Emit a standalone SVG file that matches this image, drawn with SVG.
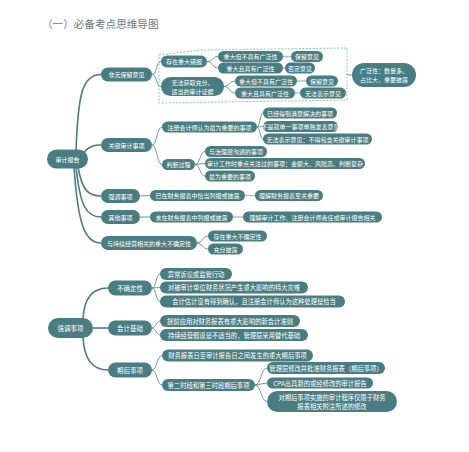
<svg xmlns="http://www.w3.org/2000/svg" width="469" height="452" viewBox="0 0 469 452">
<style>
.n{fill:#4a7d82}
.t{fill:#fff;font-family:"Noto Sans CJK SC","Noto Sans",sans-serif;font-size:6px;text-anchor:middle;dominant-baseline:central}
.l .t{font-size:6.3px}
.l .big .t{font-size:6.5px}
.c{fill:none;stroke:#4a7d82;stroke-width:0.8}
.k{fill:none;stroke:#4a7d82;stroke-width:1.6}
.s{fill:none;stroke:#a9c0c2;stroke-width:1.4}
.title{fill:#6b7785;font-family:"Noto Sans CJK SC","Noto Sans",sans-serif;font-size:10.6px}
</style>
<rect width="469" height="452" fill="#fff"/>
<text class="title" x="42" y="28">（一）必备考点思维导图</text>

<g id="connectors">
<path class="k" d="M76 151 C78 95,82 74.5,101 74.5"/>
<path class="k" d="M84 152 C90 146,94 145,101 145"/>
<path class="k" d="M78 167 C82 190,88 196,101 196"/>
<path class="k" d="M76 167 C80 205,86 217,101 217"/>
<path class="k" d="M74 167 C78 225,85 243,101 243"/>
<path class="k" d="M83 319 C84 298,92 288,108 288"/>
<path class="k" d="M93 328 L108 328"/>
<path class="k" d="M83 337 C84 358,92 370,108 370"/>

<path class="c" d="M152 74.5 C157 74.5,156 61.5,161 61.5"/>
<path class="c" d="M152 74.5 C157 74.5,156 86.5,161 86.5"/>
<path class="c" d="M207 61.5 C213 61.5,212 56.5,218 56.5"/>
<path class="c" d="M207 61.5 C213 61.5,212 68,218 68"/>
<path class="c" d="M224 86.5 C229.5 86.5,229.5 81,235 81"/>
<path class="c" d="M224 86.5 C229.5 86.5,229.5 93,235 93"/>
<path class="s" d="M283 56.5 L291 56.5"/>
<path class="s" d="M283 68 L285 68"/>
<path class="s" d="M297 81 L306 81"/>
<path class="s" d="M295 93 L300 93"/>
<path class="c" d="M347 75 L352 75"/>

<path class="c" d="M152 145 C157 145,157 127,162 127"/>
<path class="c" d="M152 145 C157 145,157 164.5,162 164.5"/>
<path class="c" d="M257 127 C260 127,260 113,263 113"/>
<path class="c" d="M257 127 L263 126.5"/>
<path class="c" d="M257 127 C260 127,260 139,263 139"/>
<path class="c" d="M195 164.5 C200 164.5,200 151.5,205 151.5"/>
<path class="c" d="M195 164.5 L205 163.5"/>
<path class="c" d="M195 164.5 C200 164.5,200 176,205 176"/>
<path class="c" d="M140 196 L150 195.5"/>
<path class="s" d="M245 195.5 L255 195.5"/>
<path class="c" d="M140 217 L150 217"/>
<path class="s" d="M233 217 L243 217"/>
<path class="c" d="M197 243 C202 243,203 236,208 236"/>
<path class="c" d="M197 243 C202 243,203 249,208 249"/>

<path class="c" d="M152 288 C156 288,156 274,160 274"/>
<path class="c" d="M152 288 L160 287.5"/>
<path class="c" d="M152 288 C156 288,156 301.5,160 301.5"/>
<path class="c" d="M152 328 C156 328,156 321,160 321"/>
<path class="c" d="M152 328 C156 328,156 335,160 335"/>
<path class="c" d="M152 370 C157 370,157 355.5,162 355.5"/>
<path class="c" d="M152 370 C157 370,157 385,162 385"/>
<path class="c" d="M255 385 C261 385,261 368,267 368"/>
<path class="c" d="M255 385 L267 383"/>
<path class="c" d="M255 385 C261 385,261 401.5,267 401.5"/>
</g>

<polygon points="159,55 200,50 347,48 347,100 159,103" fill="none" stroke="#5cc48a" stroke-width="0.8" stroke-dasharray="2,1.5"/>

<g id="upper">
<g id="root1"><rect class="n" x="47" y="149.5" width="41" height="19" rx="9.5"/><text class="t" x="67.5" y="159">审计报告</text></g>
<g id="A"><rect class="n" x="101" y="67.5" width="51" height="14" rx="7"/><text class="t" x="126.5" y="74.5">非无保留意见</text></g>
<g id="B"><rect class="n" x="101" y="138" width="51" height="14" rx="7"/><text class="t" x="126.5" y="145">关键审计事项</text></g>
<g id="C"><rect class="n" x="101" y="189" width="39" height="14" rx="7"/><text class="t" x="120.5" y="196">强调事项</text></g>
<g id="D"><rect class="n" x="101" y="210" width="39" height="14" rx="7"/><text class="t" x="120.5" y="217">其他事项</text></g>
<g id="E"><rect class="n" x="101" y="236" width="96" height="14" rx="7"/><text class="t" x="149" y="243">与持续经营相关的重大不确定性</text></g>

<g id="A1"><rect class="n" x="161" y="55.5" width="46" height="12" rx="6"/><text class="t" x="184" y="61.5">存在重大错报</text></g>
<g id="A2"><rect class="n" x="161" y="77" width="63" height="19" rx="9.5"/><text class="t" x="192.5" y="82.5">无法获取充分、</text><text class="t" x="192.5" y="91">适当的审计证据</text></g>
<g id="A1a"><rect class="n" x="218" y="51" width="65" height="11" rx="5.5"/><text class="t" x="250.5" y="56.5">重大但不具有广泛性</text></g>
<g id="A1b"><rect class="n" x="218" y="62.5" width="65" height="11" rx="5.5"/><text class="t" x="250.5" y="68">重大且具有广泛性</text></g>
<g id="A1a1"><rect class="n" x="291" y="51" width="32" height="11" rx="5.5"/><text class="t" x="307" y="56.5">保留意见</text></g>
<g id="A1b1"><rect class="n" x="285" y="62.5" width="30" height="11" rx="5.5"/><text class="t" x="300" y="68">否定意见</text></g>
<g id="A2a"><rect class="n" x="235" y="75.5" width="62" height="11" rx="5.5"/><text class="t" x="266" y="81">重大但不具有广泛性</text></g>
<g id="A2b"><rect class="n" x="235" y="87.5" width="60" height="11" rx="5.5"/><text class="t" x="265" y="93">重大且具有广泛性</text></g>
<g id="A2a1"><rect class="n" x="306" y="75.5" width="32" height="11" rx="5.5"/><text class="t" x="322" y="81">保留意见</text></g>
<g id="A2b1"><rect class="n" x="300" y="87.5" width="46" height="11" rx="5.5"/><text class="t" x="323" y="93">无法表示意见</text></g>
<g id="W"><rect class="n" x="352" y="63" width="64" height="24" rx="12"/><text class="t" x="384" y="70.5">广泛性：数量多、</text><text class="t" x="384" y="79.5">占比大，重要披露</text></g>

<g id="B1"><rect class="n" x="162" y="121.5" width="95" height="11" rx="5.5"/><text class="t" x="209.5" y="127">注册会计师认为最为重要的事项</text></g>
<g id="B2"><rect class="n" x="162" y="159" width="33" height="11" rx="5.5"/><text class="t" x="178.5" y="164.5">判断过程</text></g>
<g id="B1a"><rect class="n" x="263" y="107.5" width="74" height="11" rx="5.5"/><text class="t" x="300" y="113">已经得到满意解决的事项</text></g>
<g id="B1b"><rect class="n" x="263" y="121" width="75" height="11" rx="5.5"/><text class="t" x="300.5" y="126.5">不是就单一事项单独发表意见</text></g>
<g id="B1c"><rect class="n" x="263" y="133.5" width="109" height="11" rx="5.5"/><text class="t" x="317.5" y="139">无法表示意见：不得包含关键审计事项</text></g>
<g id="B2a"><rect class="n" x="205" y="146" width="62" height="11" rx="5.5"/><text class="t" x="236" y="151.5">与治理层沟通的事项</text></g>
<g id="B2b"><rect class="n" x="205" y="158" width="160" height="11" rx="5.5"/><text class="t" x="285" y="163.5">审计工作时重点关注过的事项：金额大、风险高、判断复杂</text></g>
<g id="B2c"><rect class="n" x="205" y="170.5" width="50" height="11" rx="5.5"/><text class="t" x="230" y="176">最为重要的事项</text></g>

<g id="C1"><rect class="n" x="150" y="190" width="95" height="11" rx="5.5"/><text class="t" x="197.5" y="195.5">已在财务报表中恰当列报或披露</text></g>
<g id="C1a"><rect class="n" x="255" y="190" width="68" height="11" rx="5.5"/><text class="t" x="289" y="195.5">理解财务报表至关重要</text></g>
<g id="D1"><rect class="n" x="150" y="211.5" width="83" height="11" rx="5.5"/><text class="t" x="191.5" y="217">未在财务报表中列报或披露</text></g>
<g id="D1a"><rect class="n" x="243" y="211.5" width="139" height="11" rx="5.5"/><text class="t" x="312.5" y="217">理解审计工作、注册会计师责任或审计报告相关</text></g>
<g id="E1"><rect class="n" x="208" y="230.5" width="59" height="11" rx="5.5"/><text class="t" x="237.5" y="236">存在重大不确定性</text></g>
<g id="E2"><rect class="n" x="208" y="243.5" width="35" height="11" rx="5.5"/><text class="t" x="225.5" y="249">充分披露</text></g>
</g>

<g id="lower" class="l">
<g id="root2" class="big"><rect class="n" x="48" y="318" width="45" height="20" rx="10"/><text class="t" x="70.5" y="328">强调事项</text></g>
<g id="F" class="big"><rect class="n" x="108" y="280.5" width="44" height="15" rx="7.5"/><text class="t" x="130" y="288">不确定性</text></g>
<g id="G" class="big"><rect class="n" x="108" y="320.5" width="44" height="15" rx="7.5"/><text class="t" x="130" y="328">会计基础</text></g>
<g id="H" class="big"><rect class="n" x="108" y="362.5" width="44" height="15" rx="7.5"/><text class="t" x="130" y="370">期后事项</text></g>
<g id="F1"><rect class="n" x="160" y="268" width="72" height="12" rx="6"/><text class="t" x="196" y="274">异常诉讼或监管行动</text></g>
<g id="F2"><rect class="n" x="160" y="281.5" width="148" height="12" rx="6"/><text class="t" x="234" y="287.5">对被审计单位财务状况产生重大影响的特大灾难</text></g>
<g id="F3"><rect class="n" x="160" y="295.5" width="185" height="12" rx="6"/><text class="t" x="254" y="301.5">会计估计没有得到确认，且注册会计师认为这种处理是恰当</text></g>
<g id="G1"><rect class="n" x="160" y="315" width="140" height="12" rx="6"/><text class="t" x="230" y="321">提前应用对财务报表有重大影响的新会计准则</text></g>
<g id="G2"><rect class="n" x="160" y="329" width="148" height="12" rx="6"/><text class="t" x="234" y="335">持续经营假设是不适当的，管理层采用替代基础</text></g>
<g id="H1"><rect class="n" x="162" y="349.5" width="151" height="12" rx="6"/><text class="t" x="237.5" y="355.5">财务报表日至审计报告日之间发生的重大期后事项</text></g>
<g id="H2"><rect class="n" x="162" y="379" width="93" height="12" rx="6"/><text class="t" x="208.5" y="385">第二时段和第三时段期后事项</text></g>
<g id="H2a"><rect class="n" x="267" y="362" width="118" height="12" rx="6"/><text class="t" x="326" y="368">管理层修改并批准财务报表（期后事项）</text></g>
<g id="H2b"><rect class="n" x="267" y="377.5" width="106" height="11" rx="5.5"/><text class="t" x="320" y="383">CPA出具新的或经修改的审计报告</text></g>
<g id="H2c"><rect class="n" x="267" y="391" width="130" height="21" rx="10.5"/><text class="t" x="332" y="397">对期后事项实施的审计程序仅限于财务</text><text class="t" x="332" y="406.5">报表相关附注所述的修改</text></g>
</g>
</svg>
